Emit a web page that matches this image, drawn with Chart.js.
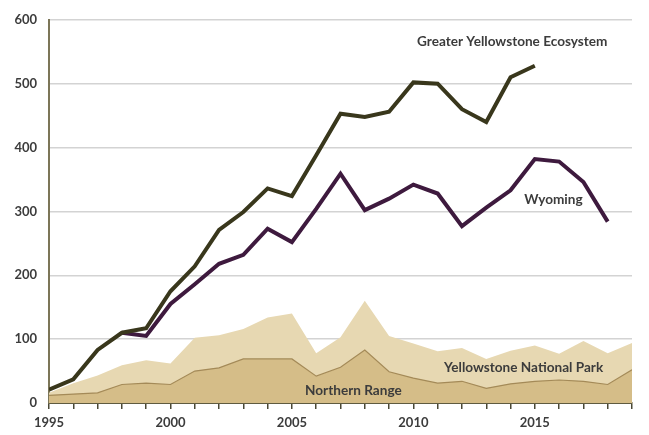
<!DOCTYPE html>
<html>
<head>
<meta charset="utf-8">
<script src="https://cdn.jsdelivr.net/npm/chart.js@4.4.1/dist/chart.umd.min.js"></script>
<style>
  html, body { margin: 0; padding: 0; background: #fff; }
  #wolves { display: block; }
</style>
</head>
<body>
<canvas id="wolves" width="649" height="435"></canvas>
<script>
const years = [1995, 1996, 1997, 1998, 1999, 2000, 2001, 2002, 2003, 2004, 2005, 2006, 2007,
  2008, 2009, 2010, 2011, 2012, 2013, 2014, 2015, 2016, 2017, 2018, 2019];
const gye = [21, 37, 83, 110, 117, 175, 214, 271, 299, 336, 324, 388, 453,
  448, 456, 502, 500, 460, 440, 510, 528, null, null, null, null];
const wyoming = [null, null, null, 110, 105, 155, 186, 218, 232, 273, 252, 304, 359,
  302, 320, 342, 328, 277, 306, 333, 382, 378, 346, 284, null];
const ynp = [16, 31, 43, 59, 67, 62, 102, 106, 116, 134, 140, 78, 103,
  160, 105, 93, 81, 86, 69, 82, 90, 77, 97, 78, 94];
const northernRange = [12, 14, 16, 29, 31, 29, 50, 55, 69, 69, 69, 42, 56,
  83, 49, 39, 31, 34, 23, 30, 34, 36, 34, 29, 52];
const yTicks = [0, 100, 200, 300, 400, 500, 600];

// series names written next to the lines: [text, year, value]
const seriesLabels = [
  ["Greater Yellowstone Ecosystem", 2010.15, 566],
  ["Wyoming", 2014.56, 319],
  ["Yellowstone National Park", 2011.26, 56],
  ["Northern Range", 2005.54, 19],
];

const FONT = "Lato, 'Open Sans', sans-serif";

const inlineLabels = {
  id: "inlineLabels",
  afterDatasetsDraw(chart) {
    const { ctx, scales: { x, y } } = chart;
    ctx.save();
    ctx.font = `bold 13.6px ${FONT}`;
    ctx.fillStyle = "#3c3c3c";
    ctx.textBaseline = "middle";
    ctx.textAlign = "left";
    seriesLabels.forEach(([text, yr, val]) => {
      ctx.fillText(text, x.getPixelForValue(yr), y.getPixelForValue(val));
    });
    ctx.restore();
  },
};

const lineOpts = { pointRadius: 0, tension: 0, fill: false, spanGaps: false };

new Chart(document.getElementById("wolves"), {
  type: "line",
  data: {
    labels: years,
    datasets: [
      { ...lineOpts, label: "Greater Yellowstone Ecosystem", data: gye,
        borderColor: "#39371c", borderWidth: 4, order: 0 },
      { ...lineOpts, label: "Wyoming", data: wyoming,
        borderColor: "#3e1a3e", borderWidth: 4, order: 1 },
      { ...lineOpts, label: "Northern Range", data: northernRange, fill: "origin",
        backgroundColor: "#d5bd88", borderColor: "#a48a58", borderWidth: 1.2, order: 2 },
      { ...lineOpts, label: "Yellowstone National Park", data: ynp, fill: "origin",
        backgroundColor: "#e7d8b2", borderWidth: 0, order: 3 },
    ],
  },
  options: {
    responsive: false,
    animation: false,
    layout: { padding: { top: 16, right: 17, left: 0, bottom: 0 } },
    plugins: { legend: { display: false }, tooltip: { enabled: false } },
    scales: {
      x: {
        type: "linear",
        min: years[0],
        max: years[years.length - 1],
        afterBuildTicks: (scale) => { scale.ticks = years.map((v) => ({ value: v })); },
        afterFit: (scale) => { scale.height = 32; },
        ticks: {
          autoSkip: false,
          maxRotation: 0,
          padding: 6,
          color: "#3c3c3c",
          font: { family: FONT, size: 13, weight: "bold" },
          callback: (v) => (v % 5 === 0 ? String(v) : ""),
        },
        grid: { drawOnChartArea: false, drawTicks: true, tickLength: 6, color: "#4a4836", lineWidth: 1.5 },
        border: { display: true, color: "#5f5b40", width: 2 },
      },
      y: {
        min: 0,
        max: 600,
        afterBuildTicks: (scale) => { scale.ticks = yTicks.map((v) => ({ value: v })); },
        afterFit: (scale) => { scale.width = 49; },
        ticks: {
          padding: 12,
          color: "#3c3c3c",
          font: { family: FONT, size: 13, weight: "bold" },
        },
        grid: { drawTicks: false, color: "#d3d3d3", lineWidth: 1.5 },
        border: { display: true, color: "#7c7658", width: 2 },
      },
    },
  },
  plugins: [inlineLabels],
});
</script>
</body>
</html>
